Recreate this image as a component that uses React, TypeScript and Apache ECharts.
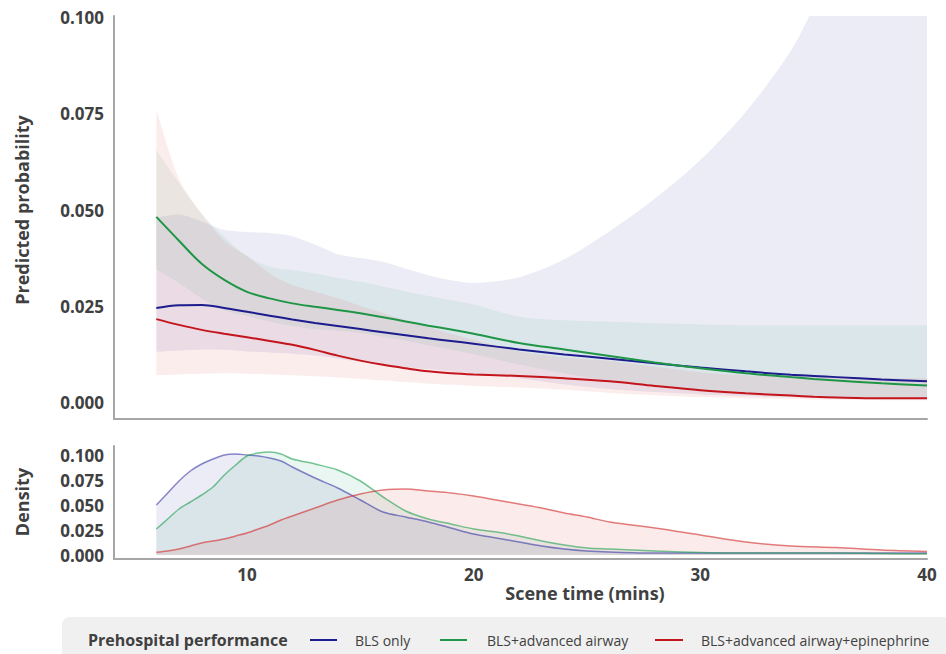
import React, { useEffect, useRef } from "react";
import * as echarts from "echarts";

// ---------- Data ----------
const sceneTime = [6, 7, 8, 9, 10, 11, 12, 13, 14, 15, 16, 17, 18, 19, 20, 22, 24, 26, 28, 30, 32, 34, 35, 36, 38, 40];

const blsOnly = [0.0245, 0.0252, 0.0253, 0.0245, 0.0235, 0.0225, 0.0215, 0.0206, 0.0198, 0.019, 0.0182, 0.0174, 0.0166, 0.0159, 0.0152, 0.0137, 0.0124, 0.0113, 0.0101, 0.009, 0.008, 0.0071, 0.0068, 0.0065, 0.0059, 0.0054];
// upper limit runs off the top of the plot after ~35 min (clipped at 0.100)
const blsOnlyUpper = [0.048, 0.0488, 0.047, 0.0448, 0.0443, 0.044, 0.0432, 0.041, 0.0385, 0.0375, 0.0365, 0.0347, 0.033, 0.0317, 0.031, 0.0325, 0.0372, 0.0445, 0.053, 0.063, 0.0755, 0.0915, 0.103, 0.116, 0.145, 0.175];
const blsOnlyLower = [0.0131, 0.0134, 0.0137, 0.0136, 0.0132, 0.0129, 0.0126, 0.0121, 0.0113, 0.0105, 0.0097, 0.0091, 0.0086, 0.008, 0.0074, 0.0062, 0.0046, 0.0034, 0.0026, 0.002, 0.0016, 0.0013, 0.0012, 0.0011, 0.001, 0.0009];

const airway = [0.0482, 0.042, 0.036, 0.0318, 0.0287, 0.027, 0.0257, 0.0248, 0.024, 0.0231, 0.0221, 0.021, 0.0199, 0.0189, 0.0178, 0.0154, 0.0137, 0.012, 0.0103, 0.0088, 0.0075, 0.0065, 0.006, 0.0056, 0.0049, 0.0043];
const airwayUpper = [0.0656, 0.057, 0.049, 0.043, 0.038, 0.0352, 0.0343, 0.0335, 0.0323, 0.0313, 0.0301, 0.0288, 0.0276, 0.0265, 0.0254, 0.0222, 0.0213, 0.0209, 0.0205, 0.0202, 0.02, 0.02, 0.02, 0.02, 0.02, 0.02];
const airwayLower = [0.0345, 0.031, 0.027, 0.024, 0.0224, 0.021, 0.0198, 0.019, 0.0186, 0.018, 0.017, 0.016, 0.0148, 0.0137, 0.0125, 0.0098, 0.0075, 0.0055, 0.004, 0.003, 0.0022, 0.0017, 0.0015, 0.0013, 0.0011, 0.001];

const epinephrine = [0.0216, 0.0201, 0.0188, 0.0178, 0.0169, 0.0159, 0.0149, 0.0136, 0.0121, 0.0108, 0.0097, 0.0088, 0.008, 0.0075, 0.0072, 0.0068, 0.0062, 0.0054, 0.0042, 0.0031, 0.0023, 0.0017, 0.0014, 0.0012, 0.001, 0.001];
const epinephrineUpper = [0.076, 0.058, 0.049, 0.042, 0.038, 0.0335, 0.0305, 0.0288, 0.027, 0.025, 0.0232, 0.0213, 0.0195, 0.0178, 0.0162, 0.0132, 0.0117, 0.0107, 0.0092, 0.0078, 0.007, 0.0067, 0.0066, 0.0065, 0.0063, 0.0062];
const epinephrineLower = [0.007, 0.0072, 0.0074, 0.0075, 0.0074, 0.0072, 0.007, 0.0067, 0.0064, 0.006, 0.0056, 0.0052, 0.0048, 0.0045, 0.0042, 0.0038, 0.0032, 0.0024, 0.0018, 0.0013, 0.001, 0.0008, 0.0007, 0.0006, 0.0005, 0.0005];

const densityTime = [6, 6.5, 7, 7.5, 8, 8.5, 9, 9.5, 10, 10.5, 11, 11.5, 12, 13, 14, 15, 16, 17, 18, 19, 20, 21, 22, 23, 24, 25, 26, 28, 30, 32, 34, 36, 38, 40];
const densityBls = [0.05, 0.062, 0.074, 0.084, 0.091, 0.096, 0.1, 0.101, 0.1, 0.099, 0.097, 0.094, 0.088, 0.077, 0.067, 0.055, 0.043, 0.038, 0.033, 0.027, 0.021, 0.017, 0.013, 0.009, 0.006, 0.004, 0.003, 0.002, 0.002, 0.002, 0.002, 0.002, 0.002, 0.002];
const densityAirway = [0.026, 0.036, 0.046, 0.053, 0.06, 0.068, 0.08, 0.09, 0.099, 0.102, 0.103, 0.101, 0.096, 0.091, 0.085, 0.074, 0.058, 0.044, 0.036, 0.031, 0.026, 0.023, 0.019, 0.014, 0.01, 0.007, 0.006, 0.004, 0.0025, 0.002, 0.002, 0.002, 0.0015, 0.0012];
const densityEpi = [0.0027, 0.004, 0.006, 0.009, 0.012, 0.014, 0.016, 0.019, 0.022, 0.026, 0.03, 0.035, 0.039, 0.047, 0.055, 0.061, 0.065, 0.066, 0.064, 0.062, 0.059, 0.055, 0.051, 0.047, 0.042, 0.038, 0.033, 0.027, 0.02, 0.013, 0.009, 0.0075, 0.005, 0.0035];

const probTicks = [0, 0.025, 0.05, 0.075, 0.1];
const densityTicks = [0, 0.025, 0.05, 0.075, 0.1];
const timeTicks = [10, 20, 30, 40];

const groupNames = ["BLS only", "BLS+advanced airway", "BLS+advanced airway+epinephrine"];

// ---------- Styles ----------
const FONT = "Open Sans";
const TEXT = "#404040";
const AXIS = "#a6a6a6";
const lineColors = ["#1c1c8e", "#1e9646", "#c4141c"];
const bandColors = ["rgba(40,40,150,0.09)", "rgba(66,176,125,0.10)", "rgba(220,60,60,0.09)"];
const densityFill = ["rgba(40,40,150,0.09)", "rgba(66,176,125,0.11)", "rgba(220,60,60,0.10)"];
const densityLineColors = ["rgba(40,40,160,0.55)", "rgba(30,160,80,0.6)", "rgba(210,40,40,0.6)"];

const zip = (xs: number[], ys: number[]) => xs.map((x, i) => [x, ys[i]]);

function bandSeries(lo: number[], up: number[], color: string) {
  return {
    type: "custom",
    xAxisIndex: 0,
    yAxisIndex: 0,
    silent: true,
    clip: true,
    encode: { x: 0, y: [1, 2] },
    data: sceneTime.map((x, i) => [x, lo[i], up[i]]),
    renderItem: (params: any, api: any) => {
      if (params.dataIndexInside !== 0) return null;
      const n = params.dataInsideLength;
      const top: number[][] = [];
      const bot: number[][] = [];
      for (let k = 0; k < n; k++) {
        const x = api.value(0, k);
        top.push(api.coord([x, api.value(2, k)]));
        bot.push(api.coord([x, api.value(1, k)]));
      }
      const botRev = bot.slice().reverse();
      const points = [top[0], ...top, top[n - 1], botRev[0], ...botRev, botRev[n - 1]];
      return {
        type: "polygon",
        shape: { points, smooth: 0.3 },
        style: { fill: color, stroke: "none" },
      };
    },
  };
}

function buildOption() {
  const groups = [
    { mid: blsOnly, up: blsOnlyUpper, lo: blsOnlyLower },
    { mid: airway, up: airwayUpper, lo: airwayLower },
    { mid: epinephrine, up: epinephrineUpper, lo: epinephrineLower },
  ];
  const densities = [densityBls, densityAirway, densityEpi];
  const series: any[] = [];
  const smooth = 0.35;

  groups.forEach((g, i) => series.push(bandSeries(g.lo, g.up, bandColors[i])));
  groups.forEach((g, i) => {
    series.push({
      type: "line",
      name: groupNames[i],
      xAxisIndex: 0,
      yAxisIndex: 0,
      data: zip(sceneTime, g.mid),
      symbol: "none",
      smooth,
      lineStyle: { color: lineColors[i], width: 2 },
      z: 3,
    });
  });
  densities.forEach((d, i) => {
    series.push({
      type: "line",
      xAxisIndex: 1,
      yAxisIndex: 1,
      data: zip(densityTime, d),
      symbol: "none",
      smooth: 0.3,
      lineStyle: { color: densityLineColors[i], width: 1.5 },
      areaStyle: { color: densityFill[i], opacity: 1 },
    });
  });

  const yLabel = {
    customValues: probTicks,
    formatter: (v: number) => v.toFixed(3),
    color: TEXT,
    fontFamily: FONT,
    fontWeight: "bold",
    fontSize: 17,
    margin: 10,
  };

  const legendY = 640;
  const legendItems = [
    { x1: 310, x2: 337, tx: 355 },
    { x1: 440, x2: 467, tx: 487 },
    { x1: 655, x2: 683, tx: 701 },
  ];

  const graphic: any[] = [
    {
      type: "rect",
      shape: { x: 62, y: 617, width: 900, height: 60, r: 8 },
      style: { fill: "#f0f0f0" },
      z: 0,
    },
    {
      type: "text",
      x: 88,
      y: legendY,
      style: {
        text: "Prehospital performance",
        fill: TEXT,
        font: `bold 16px "${FONT}"`,
        verticalAlign: "middle",
        align: "left",
      },
    },
    {
      type: "text",
      x: 585,
      y: 593,
      style: {
        text: "Scene time (mins)",
        fill: TEXT,
        font: `bold 18px "${FONT}"`,
        verticalAlign: "middle",
        align: "center",
      },
    },
    {
      type: "text",
      x: 22,
      y: 210,
      rotation: Math.PI / 2,
      style: {
        text: "Predicted probability",
        fill: TEXT,
        font: `bold 18px "${FONT}"`,
        verticalAlign: "middle",
        align: "center",
      },
    },
    {
      type: "text",
      x: 22,
      y: 502,
      rotation: Math.PI / 2,
      style: {
        text: "Density",
        fill: TEXT,
        font: `bold 18px "${FONT}"`,
        verticalAlign: "middle",
        align: "center",
      },
    },
  ];
  legendItems.forEach((it, i) => {
    graphic.push({
      type: "line",
      shape: { x1: it.x1, y1: legendY, x2: it.x2, y2: legendY },
      style: { stroke: lineColors[i], lineWidth: 2 },
    });
    graphic.push({
      type: "text",
      x: it.tx,
      y: legendY,
      style: {
        text: groupNames[i],
        fill: TEXT,
        font: `14px "${FONT}"`,
        verticalAlign: "middle",
        align: "left",
      },
    });
  });

  return {
    animation: false,
    backgroundColor: "#ffffff",
    textStyle: { fontFamily: FONT },
    grid: [
      { left: 114, top: 16, width: 813, height: 403 },
      { left: 114, top: 446, width: 813, height: 113 },
    ],
    xAxis: [
      {
        type: "value",
        gridIndex: 0,
        min: 4.132,
        max: 40,
        axisLine: { show: true, onZero: false, lineStyle: { color: AXIS, width: 2 } },
        axisTick: { show: false },
        axisLabel: { show: false },
        splitLine: { show: false },
      },
      {
        type: "value",
        gridIndex: 1,
        min: 4.132,
        max: 40,
        axisLine: { show: true, onZero: false, lineStyle: { color: AXIS, width: 2 } },
        axisTick: { show: false },
        axisLabel: {
          customValues: timeTicks,
          color: TEXT,
          fontFamily: FONT,
          fontWeight: "bold",
          fontSize: 17,
          margin: 7,
        },
        splitLine: { show: false },
      },
    ],
    yAxis: [
      {
        type: "value",
        gridIndex: 0,
        min: -0.0044,
        max: 0.1005,
        axisLine: { show: true, onZero: false, lineStyle: { color: AXIS, width: 2 } },
        axisTick: { show: false },
        axisLabel: yLabel,
        splitLine: { show: false },
      },
      {
        type: "value",
        gridIndex: 1,
        min: -0.004,
        max: 0.109,
        axisLine: { show: true, onZero: false, lineStyle: { color: AXIS, width: 2 } },
        axisTick: { show: false },
        axisLabel: { ...yLabel, customValues: densityTicks },
        splitLine: { show: false },
      },
    ],
    graphic,
    series,
  };
}

export default function App() {
  const ref = useRef<HTMLDivElement>(null);
  useEffect(() => {
    document.body.style.margin = "0";
    if (!ref.current) return;
    const chart = echarts.init(ref.current, null, { renderer: "svg" });
    chart.setOption(buildOption() as any);
    return () => chart.dispose();
  }, []);
  return <div ref={ref} style={{ width: 946, height: 654, position: "absolute", left: 0, top: 0 }} />;
}
